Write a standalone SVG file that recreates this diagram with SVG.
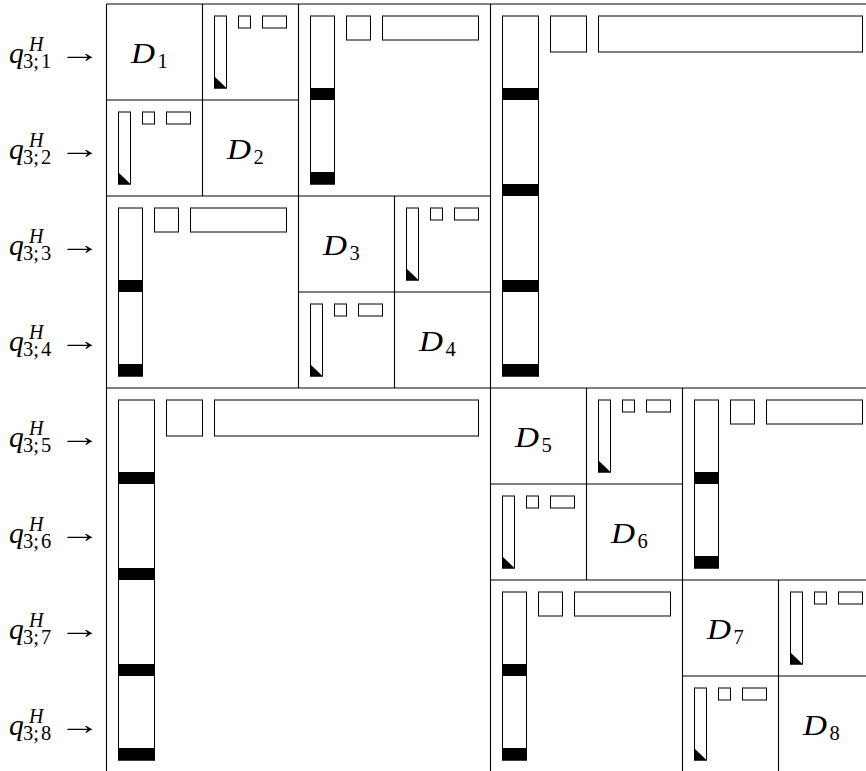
<svg xmlns="http://www.w3.org/2000/svg" xmlns:xlink="http://www.w3.org/1999/xlink" width="866" height="771" viewBox="0 0 866 771">
<style>
  .g { stroke:#000; stroke-width:1.1; fill:none; }
  .w { fill:#fff; stroke:#000; stroke-width:1; }
  .b { fill:#000; stroke:none; }
  .mi { font-family:"Liberation Serif","Times New Roman",serif; font-style:italic; font-size:29.5px; fill:#000; }
  .si { font-style:italic; font-size:20px; }
  .su { font-family:"Liberation Serif","Times New Roman",serif; font-style:normal; font-size:20.5px; fill:#000; }
  .ar { font-family:"Liberation Serif","DejaVu Serif",serif; font-size:28px; fill:#000; }
</style>
<defs>
  <g id="big">
    <rect class="w" x="12" y="12" width="36" height="360"/>
    <rect class="b" x="11.5" y="84" width="37" height="12"/>
    <rect class="b" x="11.5" y="180" width="37" height="12"/>
    <rect class="b" x="11.5" y="276" width="37" height="12"/>
    <rect class="b" x="11.5" y="360" width="37" height="12.5"/>
    <rect class="w" x="60" y="12" width="36" height="36"/>
    <rect class="w" x="108" y="12" width="264" height="36"/>
  </g>
  <g id="mid">
    <rect class="w" x="12" y="12" width="24" height="168"/>
    <rect class="b" x="11.5" y="84" width="25" height="12"/>
    <rect class="b" x="11.5" y="168" width="25" height="12.5"/>
    <rect class="w" x="48" y="12" width="24" height="24"/>
    <rect class="w" x="84" y="12" width="96" height="24"/>
  </g>
  <g id="small">
    <rect class="w" x="12" y="12" width="12" height="72"/>
    <polygon class="b" points="11.5,72 11.5,84.5 24.5,84.5"/>
    <rect class="w" x="36" y="12" width="12" height="12"/>
    <rect class="w" x="60" y="12" width="24" height="12"/>
  </g>
</defs>

<g id="grid" class="g">
  <line x1="106.5" y1="4" x2="866" y2="4"/>
  <line x1="106.5" y1="4" x2="106.5" y2="771"/>
  <line x1="490.5" y1="4" x2="490.5" y2="771"/>
  <line x1="106.5" y1="388" x2="866" y2="388"/>
  <line x1="298.5" y1="4" x2="298.5" y2="388"/>
  <line x1="106.5" y1="196" x2="490.5" y2="196"/>
  <line x1="202.5" y1="4" x2="202.5" y2="196"/>
  <line x1="106.5" y1="100" x2="298.5" y2="100"/>
  <line x1="394.5" y1="196" x2="394.5" y2="388"/>
  <line x1="298.5" y1="292" x2="490.5" y2="292"/>
  <line x1="682.5" y1="388" x2="682.5" y2="771"/>
  <line x1="490.5" y1="580" x2="866" y2="580"/>
  <line x1="586.5" y1="388" x2="586.5" y2="580"/>
  <line x1="490.5" y1="484" x2="682.5" y2="484"/>
  <line x1="778.5" y1="580" x2="778.5" y2="771"/>
  <line x1="682.5" y1="676" x2="866" y2="676"/>
</g>

<g id="labels">
  <g id="q1"><text class="mi" x="9" y="63">q<tspan class="si" x="29" y="51">H</tspan><tspan class="su" x="23" y="68">3;<tspan dx="2">1</tspan></tspan></text><text class="ar" transform="translate(59,62) scale(1.5,1)">→</text></g>
  <g id="q2"><text class="mi" x="9" y="159">q<tspan class="si" x="29" y="147">H</tspan><tspan class="su" x="23" y="164">3;<tspan dx="2">2</tspan></tspan></text><text class="ar" transform="translate(59,158) scale(1.5,1)">→</text></g>
  <g id="q3"><text class="mi" x="9" y="255">q<tspan class="si" x="29" y="243">H</tspan><tspan class="su" x="23" y="260">3;<tspan dx="2">3</tspan></tspan></text><text class="ar" transform="translate(59,254) scale(1.5,1)">→</text></g>
  <g id="q4"><text class="mi" x="9" y="351">q<tspan class="si" x="29" y="339">H</tspan><tspan class="su" x="23" y="356">3;<tspan dx="2">4</tspan></tspan></text><text class="ar" transform="translate(59,350) scale(1.5,1)">→</text></g>
  <g id="q5"><text class="mi" x="9" y="447">q<tspan class="si" x="29" y="435">H</tspan><tspan class="su" x="23" y="452">3;<tspan dx="2">5</tspan></tspan></text><text class="ar" transform="translate(59,446) scale(1.5,1)">→</text></g>
  <g id="q6"><text class="mi" x="9" y="543">q<tspan class="si" x="29" y="531">H</tspan><tspan class="su" x="23" y="548">3;<tspan dx="2">6</tspan></tspan></text><text class="ar" transform="translate(59,542) scale(1.5,1)">→</text></g>
  <g id="q7"><text class="mi" x="9" y="639">q<tspan class="si" x="29" y="627">H</tspan><tspan class="su" x="23" y="644">3;<tspan dx="2">7</tspan></tspan></text><text class="ar" transform="translate(59,638) scale(1.5,1)">→</text></g>
  <g id="q8"><text class="mi" x="9" y="735">q<tspan class="si" x="29" y="723">H</tspan><tspan class="su" x="23" y="740">3;<tspan dx="2">8</tspan></tspan></text><text class="ar" transform="translate(59,734) scale(1.5,1)">→</text></g>
</g>

<g id="D1"><text class="mi" x="131" y="63" textLength="24" lengthAdjust="spacingAndGlyphs">D</text><text class="su" x="157.5" y="68">1</text></g>
<g id="D2"><text class="mi" x="227" y="159" textLength="24" lengthAdjust="spacingAndGlyphs">D</text><text class="su" x="253.5" y="164">2</text></g>
<g id="D3"><text class="mi" x="323" y="255" textLength="24" lengthAdjust="spacingAndGlyphs">D</text><text class="su" x="349.5" y="260">3</text></g>
<g id="D4"><text class="mi" x="419" y="351" textLength="24" lengthAdjust="spacingAndGlyphs">D</text><text class="su" x="445.5" y="356">4</text></g>
<g id="D5"><text class="mi" x="515" y="447" textLength="24" lengthAdjust="spacingAndGlyphs">D</text><text class="su" x="541.5" y="452">5</text></g>
<g id="D6"><text class="mi" x="611" y="543" textLength="24" lengthAdjust="spacingAndGlyphs">D</text><text class="su" x="637.5" y="548">6</text></g>
<g id="D7"><text class="mi" x="707" y="639" textLength="24" lengthAdjust="spacingAndGlyphs">D</text><text class="su" x="733.5" y="644">7</text></g>
<g id="D8"><text class="mi" x="803" y="735" textLength="24" lengthAdjust="spacingAndGlyphs">D</text><text class="su" x="829.5" y="740">8</text></g>

<g id="L1a"><use href="#big" xlink:href="#big" x="490.5" y="4"/></g>
<g id="L1b"><use href="#big" xlink:href="#big" x="106.5" y="388"/></g>
<g id="L2a"><use href="#mid" xlink:href="#mid" x="298.5" y="4"/></g>
<g id="L2b"><use href="#mid" xlink:href="#mid" x="106.5" y="196"/></g>
<g id="L2c"><use href="#mid" xlink:href="#mid" x="682.5" y="388"/></g>
<g id="L2d"><use href="#mid" xlink:href="#mid" x="490.5" y="580"/></g>
<g id="L3a"><use href="#small" xlink:href="#small" x="202.5" y="4"/></g>
<g id="L3b"><use href="#small" xlink:href="#small" x="106.5" y="100"/></g>
<g id="L3c"><use href="#small" xlink:href="#small" x="394.5" y="196"/></g>
<g id="L3d"><use href="#small" xlink:href="#small" x="298.5" y="292"/></g>
<g id="L3e"><use href="#small" xlink:href="#small" x="586.5" y="388"/></g>
<g id="L3f"><use href="#small" xlink:href="#small" x="490.5" y="484"/></g>
<g id="L3g"><use href="#small" xlink:href="#small" x="778.5" y="580"/></g>
<g id="L3h"><use href="#small" xlink:href="#small" x="682.5" y="676"/></g>
</svg>
